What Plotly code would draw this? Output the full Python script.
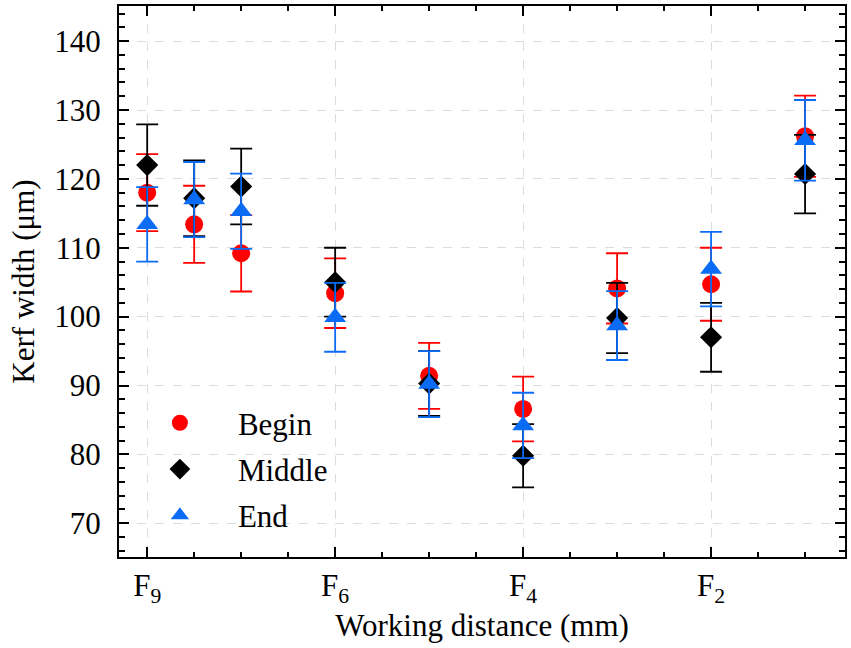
import plotly.graph_objects as go

# Working-distance positions (F9 ... F2 with intermediate settings)
positions = [0, 1, 2, 4, 6, 8, 10, 12, 14]
tick_positions = [0, 4, 8, 12]
tick_labels = ["F<sub>9</sub>", "F<sub>6</sub>", "F<sub>4</sub>", "F<sub>2</sub>"]

# Kerf width (µm) measured at the beginning, middle and end of the cut
begin = [118.0, 113.4, 109.2, 103.4, 91.4, 86.6, 104.1, 104.7, 126.2]
begin_err = [5.6, 5.6, 5.55, 5.05, 4.8, 4.7, 5.1, 5.3, 5.9]
middle = [122.0, 117.2, 118.9, 105.0, 90.3, 79.8, 99.8, 97.0, 120.7]
middle_err = [5.9, 5.5, 5.5, 5.0, 4.7, 4.6, 5.1, 5.0, 5.7]
end = [113.4, 117.0, 115.3, 99.9, 90.2, 84.2, 98.7, 106.9, 125.6]
end_err = [5.4, 5.45, 5.45, 5.0, 4.8, 4.75, 5.0, 5.4, 5.85]

FONT = "Times New Roman, Liberation Serif, serif"
FS = 31

series = [
    ("Begin", begin, begin_err, "#ff0000", "circle", 18),
    ("Middle", middle, middle_err, "#000000", "diamond", 17),
    ("End", end, end_err, "#0a6cf5", "triangle-up", 19),
]

fig = go.Figure()
for name, vals, errs, color, symbol, size in series:
    fig.add_trace(go.Scatter(
        x=positions, y=vals, name=name, mode="markers",
        legendgroup=name,
        marker=dict(color=color, symbol=symbol, size=size, line=dict(width=0)),
        error_y=dict(type="data", array=errs, visible=True, color=color,
                     thickness=1.8, width=11),
    ))

axis_common = dict(
    showline=True, linecolor="black", linewidth=2, mirror="allticks",
    ticks="inside", ticklen=10, tickwidth=1.8, tickcolor="black",
    showgrid=True, gridcolor="#dcdcdc", griddash="dash", gridwidth=1,
    zeroline=False,
    tickfont=dict(family=FONT, size=FS, color="black"),
)

fig.update_xaxes(
    **axis_common,
    range=[-0.6, 14.85],
    tickmode="array", tickvals=tick_positions, ticktext=tick_labels,
    ticklabelstandoff=0,
    minor=dict(ticks="inside", ticklen=5, tickwidth=1.5, tickcolor="black",
               dtick=1, tick0=0, showgrid=False),
    title=dict(text="Working distance (mm)", font=dict(family=FONT, size=FS, color="black"),
               standoff=4),
)
fig.update_yaxes(
    **axis_common,
    range=[65.1, 145.1],
    tickmode="linear", tick0=70, dtick=10,
    ticklabelstandoff=10,
    minor=dict(ticks="inside", ticklen=6, tickwidth=1.5, tickcolor="black",
               dtick=2, tick0=70, showgrid=False),
    title=dict(text="Kerf width (μm)", font=dict(family=FONT, size=FS, color="black"),
               standoff=10),
)

fig.update_layout(
    width=851, height=648,
    margin=dict(l=119, r=5, t=4, b=91),
    plot_bgcolor="white", paper_bgcolor="white",
    font=dict(family=FONT, size=FS, color="black"),
    legend=dict(
        x=0.004, y=0.292, xanchor="left", yanchor="top",
        bgcolor="rgba(0,0,0,0)", borderwidth=0,
        itemwidth=106, tracegroupgap=3, traceorder="grouped",
        font=dict(family=FONT, size=FS, color="black"),
    ),
)

fig.write_html("out.html")
